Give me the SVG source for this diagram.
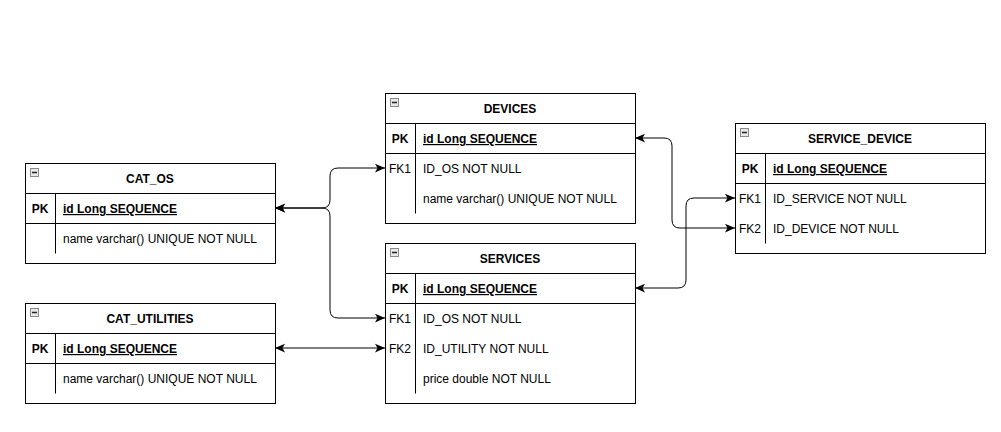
<svg xmlns="http://www.w3.org/2000/svg" width="1001" height="432" viewBox="0 0 1001 432">
<style>
text{font-family:"Liberation Sans",Arial,sans-serif;font-size:12px;fill:#000}
.t{font-weight:bold;text-anchor:middle}
.k{text-anchor:middle}
.pk{font-weight:bold;text-anchor:middle}
.pf{font-weight:bold;text-decoration:underline}
.box{fill:#fff;stroke:#000;stroke-width:1}
.ln{stroke:#000;stroke-width:1;fill:none}
.icon{fill:#e8e8e8;stroke:#8a8a8a;stroke-width:1}
.edge{stroke:#000;stroke-width:1;fill:none;marker-start:url(#arr);marker-end:url(#arr)}
</style>
<defs>
<marker id="arr" markerUnits="userSpaceOnUse" markerWidth="10" markerHeight="10" viewBox="0 0 8 7" refX="8" refY="3.5" orient="auto-start-reverse">
<path d="M0,0 L8,3.5 L0,7 L2,3.5 z" fill="#000"/>
</marker>
<g id="ic"><rect class="icon" x="0.5" y="0.5" width="8" height="8"/><line x1="2" y1="4.5" x2="7" y2="4.5" stroke="#222" stroke-width="1.5"/></g>
</defs>
<rect width="1001" height="432" fill="#fff"/>

<g id="edges">
<path class="edge" d="M275,208 L322,208 Q330,208 330,200 L330,176 Q330,168 338,168 L385,168"/>
<path class="edge" d="M275,208 L322,208 Q330,208 330,216 L330,310 Q330,318 338,318 L385,318"/>
<path class="edge" d="M275,348 L385,348"/>
<path class="edge" d="M635,138 L664,138 Q672,138 672,146 L672,220 Q672,228 680,228 L735,228"/>
<path class="edge" d="M635,288 L678,288 Q686,288 686,280 L686,206 Q686,198 694,198 L735,198"/>
</g>

<g id="cat_os">
<rect class="box" x="25.5" y="163.5" width="250" height="100"/>
<line class="ln" x1="25.5" y1="193.5" x2="275.5" y2="193.5"/>
<line class="ln" x1="25.5" y1="223.5" x2="275.5" y2="223.5"/>
<line class="ln" x1="55.5" y1="193.5" x2="55.5" y2="253.5"/>
<use href="#ic" x="30" y="168"/>
<text class="t" x="150" y="183">CAT_OS</text>
<text class="pk" x="40" y="213">PK</text>
<text class="pf" x="63" y="213">id Long SEQUENCE</text>
<text x="63" y="243">name varchar() UNIQUE NOT NULL</text>
</g>

<g id="cat_utilities">
<rect class="box" x="25.5" y="303.5" width="250" height="100"/>
<line class="ln" x1="25.5" y1="333.5" x2="275.5" y2="333.5"/>
<line class="ln" x1="25.5" y1="363.5" x2="275.5" y2="363.5"/>
<line class="ln" x1="55.5" y1="333.5" x2="55.5" y2="393.5"/>
<use href="#ic" x="30" y="308"/>
<text class="t" x="150" y="323">CAT_UTILITIES</text>
<text class="pk" x="40" y="353">PK</text>
<text class="pf" x="63" y="353">id Long SEQUENCE</text>
<text x="63" y="383">name varchar() UNIQUE NOT NULL</text>
</g>

<g id="devices">
<rect class="box" x="385.5" y="93.5" width="250" height="130"/>
<line class="ln" x1="385.5" y1="123.5" x2="635.5" y2="123.5"/>
<line class="ln" x1="385.5" y1="153.5" x2="635.5" y2="153.5"/>
<line class="ln" x1="415.5" y1="123.5" x2="415.5" y2="213.5"/>
<use href="#ic" x="390" y="98"/>
<text class="t" x="510" y="113">DEVICES</text>
<text class="pk" x="400" y="143">PK</text>
<text class="pf" x="423" y="143">id Long SEQUENCE</text>
<text class="k" x="400" y="173">FK1</text>
<text x="423" y="173">ID_OS NOT NULL</text>
<text x="423" y="203">name varchar() UNIQUE NOT NULL</text>
</g>

<g id="services">
<rect class="box" x="385.5" y="243.5" width="250" height="160"/>
<line class="ln" x1="385.5" y1="273.5" x2="635.5" y2="273.5"/>
<line class="ln" x1="385.5" y1="303.5" x2="635.5" y2="303.5"/>
<line class="ln" x1="415.5" y1="273.5" x2="415.5" y2="393.5"/>
<use href="#ic" x="390" y="248"/>
<text class="t" x="510" y="263">SERVICES</text>
<text class="pk" x="400" y="293">PK</text>
<text class="pf" x="423" y="293">id Long SEQUENCE</text>
<text class="k" x="400" y="323">FK1</text>
<text x="423" y="323">ID_OS NOT NULL</text>
<text class="k" x="400" y="353">FK2</text>
<text x="423" y="353">ID_UTILITY NOT NULL</text>
<text x="423" y="383">price double NOT NULL</text>
</g>

<g id="service_device">
<rect class="box" x="735.5" y="123.5" width="250" height="130"/>
<line class="ln" x1="735.5" y1="153.5" x2="985.5" y2="153.5"/>
<line class="ln" x1="735.5" y1="183.5" x2="985.5" y2="183.5"/>
<line class="ln" x1="765.5" y1="153.5" x2="765.5" y2="243.5"/>
<use href="#ic" x="740" y="128"/>
<text class="t" x="860" y="143">SERVICE_DEVICE</text>
<text class="pk" x="750" y="173">PK</text>
<text class="pf" x="773" y="173">id Long SEQUENCE</text>
<text class="k" x="750" y="203">FK1</text>
<text x="773" y="203">ID_SERVICE NOT NULL</text>
<text class="k" x="750" y="233">FK2</text>
<text x="773" y="233">ID_DEVICE NOT NULL</text>
</g>
</svg>
